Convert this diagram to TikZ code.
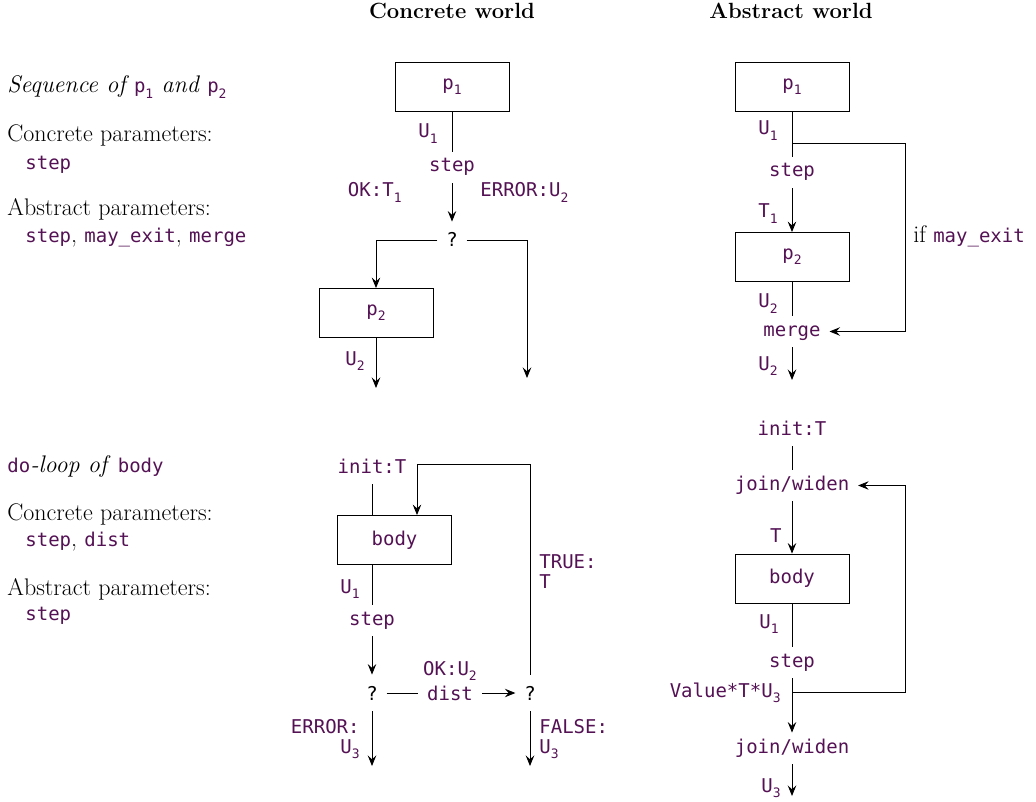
\documentclass[tikz,border=0pt]{standalone}
\usepackage{fontspec}
\setmonofont{DejaVu Sans Mono}
\usetikzlibrary{arrows.meta}
\definecolor{codec}{RGB}{84,18,84}
\newcommand{\sbs}[1]{\raisebox{-0.28em}{\fontsize{13}{13}\selectfont #1}}
\newcommand{\cd}[1]{\textcolor{codec}{\fontsize{19}{20}\selectfont\ttfamily\upshape #1}}
\tikzset{
  lbl/.style={font=\fontsize{19}{20}\selectfont\ttfamily, text=codec},
  mid/.style={lbl, inner xsep=8.5pt, inner ysep=7pt, text height=13pt, text depth=4pt},
  qn/.style={mid, text height=18pt},
  qq/.style={qn, text=black},
  box/.style={draw, lbl, minimum width=114pt, minimum height=49pt},
  el/.style={lbl, inner sep=0pt, anchor=base east},
  er/.style={lbl, inner sep=0pt, anchor=base west},
  tx/.style={anchor=base west, inner sep=0pt, font=\fontsize{24}{26}\selectfont},
  hd/.style={anchor=base, inner sep=0pt, font=\fontsize{22}{24}\selectfont\bfseries},
  arr/.style={-{Stealth[length=10.5pt,width=8.5pt,inset=3.8pt]}}
}
\begin{document}
\begin{tikzpicture}[x=1pt,y=-1pt,line width=0.85pt]
\useasboundingbox (0,0) rectangle (1036,802);
% headings
\node[hd] (hc) at (452,19) {Concrete world};
\node[hd] (ha) at (791,19) {Abstract world};
% left texts
\node[tx] (t1) at (7,93) {\itshape Sequence of \cd{p\sbs{1}} and \cd{p\sbs{2}}};
\node[tx] (t2) at (7,142) {Concrete parameters:};
\node[tx] (t3) at (25,170) {\cd{step}};
\node[tx] (t4) at (7,216) {Abstract parameters:};
\node[tx] (t5) at (25,243) {\cd{step}, \cd{may\_exit}, \cd{merge}};
\node[tx] (t6) at (7,472) {\cd{do}\textit{-loop of} \cd{body}};
\node[tx] (t7) at (7,520) {Concrete parameters:};
\node[tx] (t8) at (25,546) {\cd{step}, \cd{dist}};
\node[tx] (t9) at (7,595) {Abstract parameters:};
\node[tx] (t10) at (25,620) {\cd{step}};
% concrete sequence
\node[box] (cp1) at (452,86.5) {p\sbs{1}};
\node[mid, anchor=base] (cs1) at (452,172) {step};
\node[qq, anchor=base] (cq1) at (452,247) {?};
\node[box] (cp2) at (376,313) {p\sbs{2}};
\coordinate (ce1) at (376,388);
\coordinate (ce2) at (527,378);
\draw (cp1.south) -- (cs1.north);
\draw[arr] (cs1.south) -- (cq1.north);
\draw[arr] (cq1.west) -| (cp2.north);
\draw[arr] (cq1.east) -| (ce2);
\draw[arr] (cp2.south) -- (ce1);
\node[el] (lu1) at (438,138) {U\sbs{1}};
\node[el] (lok) at (402,197) {OK:T\sbs{1}};
\node[er] (ler) at (480,197) {ERROR:U\sbs{2}};
\node[el] (lu2) at (365,365) {U\sbs{2}};
% abstract sequence
\node[box] (ap1) at (792,87) {p\sbs{1}};
\node[mid, anchor=base] (as1) at (792,177) {step};
\node[box] (ap2) at (792,257) {p\sbs{2}};
\node[mid, anchor=base] (am) at (792,336) {merge};
\coordinate (ab) at (792,143);
\coordinate (ar) at (905,143);
\coordinate (ae) at (792,380);
\draw (ap1.south) -- (as1.north);
\draw[arr] (as1.south) -- (ap2.north);
\draw (ap2.south) -- (am.north);
\draw[arr] (am.south) -- (ae);
\draw[arr] (ab) -- (ar) |- (am.east);
\node[tx] (lif) at (913,243) {if \cd{may\_exit}};
\node[el] (alu1) at (778,135) {U\sbs{1}};
\node[el] (alt1) at (778,218) {T\sbs{1}};
\node[el] (alu2) at (778,308) {U\sbs{2}};
\node[el] (alu2b) at (778,370) {U\sbs{2}};
% concrete loop
\node[mid, anchor=base] (ci) at (372,473) {init:T};
\node[box] (cb) at (394.5,540) {body};
\node[mid, anchor=base] (cs2) at (372,625) {step};
\node[qq, anchor=base] (cq2) at (372,700) {?};
\node[qn, anchor=base] (cdi) at (450,700) {dist};
\node[qq, anchor=base] (cq3) at (530,700) {?};
\coordinate (cl) at (417,464);
\coordinate (ce3) at (372,766);
\coordinate (ce4) at (530,766);
\draw (ci.south) -- (ci.south |- cb.north);
\draw (cs2.north |- cb.south) -- (cs2.north);
\draw[arr] (cs2.south) -- (cq2.north);
\draw (cq2.east) -- (cdi.west);
\draw[arr] (cdi.east) -- (cq3.west);
\draw[arr] (cq3.north) |- (cl) -- (cl |- cb.north);
\draw[arr] (cq2.south) -- (ce3);
\draw[arr] (cq3.south) -- (ce4);
\node[el] (clu1) at (360,593) {U\sbs{1}};
\node[lbl, inner sep=0pt, anchor=base] (clok) at (450,675) {OK:U\sbs{2}};
\node[er] (ctr1) at (539,568) {TRUE:};
\node[er] (ctr2) at (539,588) {T};
\node[er] (cfa1) at (539,733) {FALSE:};
\node[er] (cfa2) at (539,753) {U\sbs{3}};
\node[el] (cer1) at (360,733) {ERROR:};
\node[el] (cer2) at (360,753) {U\sbs{3}};
% abstract loop
\node[mid, anchor=base] (ai) at (792,435) {init:T};
\node[mid, anchor=base] (aj1) at (792,490) {join/widen};
\node[box] (ab2) at (792,578.5) {body};
\node[mid, anchor=base] (as2) at (792,667) {step};
\node[mid, anchor=base] (aj2) at (792,753) {join/widen};
\coordinate (abr) at (792,692);
\coordinate (arr2) at (905,692);
\coordinate (aend) at (792,796);
\draw (ai.south) -- (aj1.north);
\draw[arr] (aj1.south) -- (ab2.north);
\draw (ab2.south) -- (as2.north);
\draw[arr] (as2.south) -- (aj2.north);
\draw[arr] (abr) -- (arr2) |- (aj1.east);
\draw[arr] (aj2.south) -- (aend);
\node[el] (alt) at (782,542) {T};
\node[el] (alu1l) at (779,628) {U\sbs{1}};
\node[el] (alv) at (781,697) {Value*T*U\sbs{3}};
\node[el] (alu3) at (781,792) {U\sbs{3}};
\end{tikzpicture}
\end{document}
